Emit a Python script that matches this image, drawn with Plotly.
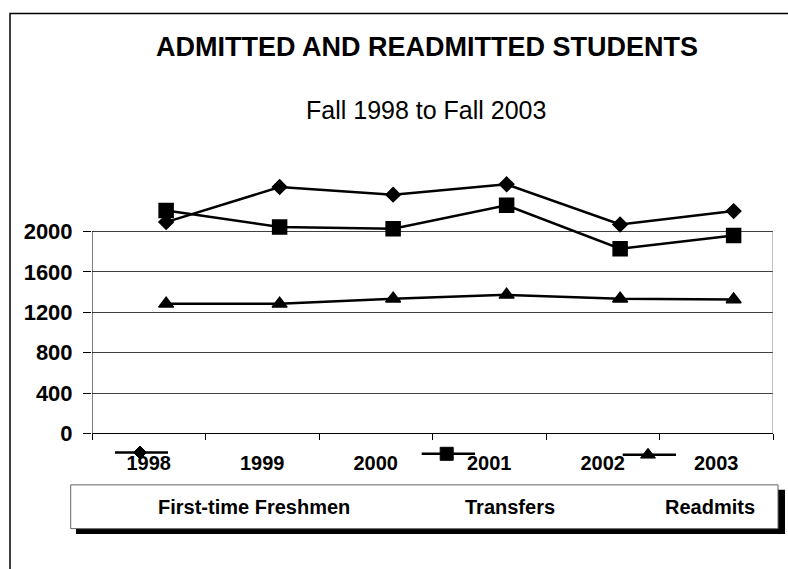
import plotly.graph_objects as go

# ---- data ----
years = ["1998", "1999", "2000", "2001", "2002", "2003"]
freshmen = [2092, 2439, 2364, 2466, 2069, 2201]
transfers = [2208, 2043, 2027, 2258, 1828, 1960]
readmits = [1283, 1283, 1333, 1372, 1333, 1326]
y_ticks = [0, 400, 800, 1200, 1600, 2000]
series_names = ["First-time Freshmen", "Transfers", "Readmits"]
title_text = "ADMITTED AND READMITTED STUDENTS"
subtitle_text = "Fall 1998 to Fall 2003"

# ---- geometry / style (pixel coordinates of the 788x569 reference) ----
RW, RH = 788, 569            # reference coordinate frame
FW, FH = 788, 583            # figure size
PX0, PX1 = 92, 773           # plot area left/right (px)
PY0 = 432.7                  # pixel row of value 0
PX_PER_UNIT = 201.7 / 2000   # vertical pixels per unit
YMAX = 2000
YTOP = 2600
POINT_SHIFT = 0.153          # markers sit right of category centre
FONT = "Arial, Liberation Sans, sans-serif"


def fx(p):
    return p / RW


def fy(p):
    return 1 - p / RH


fig = go.Figure()

xs = [i + 0.5 + POINT_SHIFT for i in range(len(years))]
styles = [("diamond", 11), ("square", 14), ("triangle-up", 13)]
for name, vals, (sym, size) in zip(series_names, [freshmen, transfers, readmits], styles):
    fig.add_trace(go.Scatter(
        x=xs, y=vals, name=name, mode="lines+markers",
        line=dict(color="black", width=2.5),
        marker=dict(symbol=sym, size=size, color="black",
                    line=dict(color="black", width=1.5)),
        cliponaxis=False, showlegend=False, xaxis="x", yaxis="y"))

# legend glyphs (pixel-space overlay)
legend_styles = [("diamond", 10), ("square", 13), ("triangle-up", 13)]
glyphs = [(115, 168, 140, 451.7), (421.7, 475, 446.7, 453), (622.7, 676, 648, 454)]
for (x0, x1, cx, cy), (sym, size) in zip(glyphs, legend_styles):
    fig.add_trace(go.Scatter(x=[x0, x1], y=[cy, cy], mode="lines",
                             line=dict(color="black", width=2.5),
                             showlegend=False, xaxis="x2", yaxis="y2", hoverinfo="skip"))
    fig.add_trace(go.Scatter(x=[cx], y=[cy], mode="markers",
                             marker=dict(symbol=sym, size=size, color="black",
                                         line=dict(color="black", width=1)),
                             showlegend=False, xaxis="x2", yaxis="y2", hoverinfo="skip"))

shapes = [
    # outer chart border
    dict(type="rect", xref="x2", yref="y2", x0=10, y0=13.5, x1=800, y1=600,
         line=dict(color="black", width=1.5), fillcolor="rgba(0,0,0,0)", layer="below"),
    # plot-area right border and left axis line
    dict(type="line", xref="x", yref="y", x0=6, x1=6, y0=0, y1=YMAX,
         line=dict(color="#808080", width=1)),
    dict(type="line", xref="x", yref="y", x0=0, x1=0, y0=0, y1=YMAX,
         line=dict(color="black", width=1)),
    # legend shadow + box
    dict(type="rect", xref="x2", yref="y2", x0=76, y0=489, x1=785, y1=533,
         line=dict(width=0), fillcolor="black"),
    dict(type="rect", xref="x2", yref="y2", x0=70.7, y0=484, x1=778, y1=527.7,
         line=dict(color="#666666", width=1), fillcolor="white"),
]

annotations = [
    dict(text="<b>" + title_text + "</b>", xref="x2", yref="y2", x=427, y=46.7,
         showarrow=False, xanchor="center", yanchor="middle",
         font=dict(family=FONT, size=27, color="black")),
    dict(text=subtitle_text, xref="x2", yref="y2", x=426, y=110,
         showarrow=False, xanchor="center", yanchor="middle",
         font=dict(family=FONT, size=25, color="black")),
]
for name, cx in zip(series_names, [254, 510, 710]):
    annotations.append(dict(text="<b>" + name + "</b>", xref="x2", yref="y2", x=cx, y=506,
                            showarrow=False, xanchor="center", yanchor="middle",
                            font=dict(family=FONT, size=20, color="black")))

fig.update_layout(
    width=FW, height=FH, autosize=False,
    margin=dict(l=0, r=0, t=0, b=0),
    paper_bgcolor="white", plot_bgcolor="rgba(0,0,0,0)",
    showlegend=False,
    xaxis=dict(domain=[fx(PX0), fx(PX1)], range=[0, 6], anchor="y",
               tickmode="array", tickvals=[i + 0.5 for i in range(len(years))],
               ticktext=years, ticks="", showgrid=False, zeroline=False,
               showline=True, linecolor="black", linewidth=1,
               minor=dict(tickmode="array", tickvals=list(range(len(years) + 1)),
                          ticks="outside", ticklen=6, tickcolor="black", tickwidth=1,
                          showgrid=False),
               tickfont=dict(family=FONT, size=20, color="black", weight="bold"),
               ticklabelstandoff=12, fixedrange=True),
    yaxis=dict(domain=[fy(PY0), fy(PY0 - YTOP * PX_PER_UNIT)], range=[0, YTOP], anchor="x",
               tickmode="array", tickvals=y_ticks, ticks="outside", ticklen=8,
               tickcolor="black", showgrid=True, gridcolor="#404040", gridwidth=1,
               zeroline=False, showline=False,
               tickfont=dict(family=FONT, size=22, color="black", weight="bold"),
               ticklabelstandoff=6, fixedrange=True),
    xaxis2=dict(domain=[0, 1], range=[0, RW], anchor="y2", visible=False, fixedrange=True),
    yaxis2=dict(domain=[0, 1], range=[RH, 0], anchor="x2", visible=False, fixedrange=True),
    shapes=shapes, annotations=annotations,
)

# pin the figure to the window's top-left corner (no page margin)
pin_js = (
    "document.documentElement.style.margin='0';"
    "document.body.style.margin='0';"
    "document.body.style.overflow='hidden';"
    "var g=document.getElementById('{plot_id}');"
    "g.style.position='fixed';g.style.left='0px';g.style.top='0px';"
)

fig.write_html("out.html", post_script=pin_js, config={"displayModeBar": False})
